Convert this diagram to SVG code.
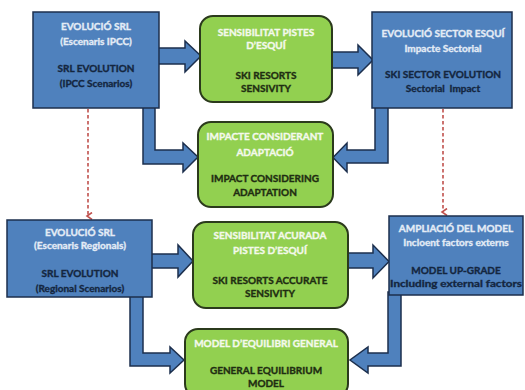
<svg xmlns="http://www.w3.org/2000/svg" width="525" height="390" viewBox="0 0 525 390">
<defs>
<style>
.blue{fill:#4f81bd;stroke:#1c2f4d;stroke-width:1.5}
.green{fill:#92d050;stroke:#2b3a1c;stroke-width:2}
.arr{fill:#4f81bd;stroke:#1c2f4d;stroke-width:1.5;stroke-linejoin:miter}
.dash{stroke:#c0504d;stroke-width:1.6;stroke-dasharray:3.5,2.5;fill:none}
text{font-family:Lato,"Liberation Sans",sans-serif;font-weight:bold;font-size:10px;text-anchor:middle;stroke-width:0.35}
.tl{fill:#e4ecf6;stroke:#e4ecf6}
.tg{fill:#f4f9ec;stroke:#f4f9ec}
.db{fill:#14263f;stroke:#14263f}
.dg{fill:#1f2d12;stroke:#1f2d12}
</style>
<marker id="rh" markerWidth="8" markerHeight="8" refX="4" refY="5" orient="auto" markerUnits="userSpaceOnUse" viewBox="0 0 8 8">
<path d="M0.5,1 L4,6 L7.5,1" fill="none" stroke="#c0504d" stroke-width="1.6"/>
</marker>
</defs>
<rect width="525" height="390" fill="#ffffff"/>
<g id="connectors">
<path class="arr" d="M155,48 H185 V41 L201,56 L185,72 V64 H155 Z"/>
<path class="arr" d="M328,52 H358 V45 L373,60 L358,75 V68 H328 Z"/>
<path class="arr" d="M143,104 H155 V150 H183 V143 L198,157 L183,172 V164 H143 Z"/>
<path class="arr" d="M388,104 V163 H347 V172 L333,157.5 L347,143 V150 H375 V104 Z"/>
<path class="arr" d="M148,254 H178 V245 L193,261 L178,277 V268 H148 Z"/>
<path class="arr" d="M345,253 H373 V245 L389,261.5 L373,278 V268 H345 Z"/>
<path class="arr" d="M130,294 H143 V353 H170 V347 L184,360 L170,373 V366 H130 Z"/>
<path class="arr" d="M401,292 V366 H368 V373 L350,360 L368,347 V353 H388 V292 Z"/>
<line class="dash" x1="88" y1="109" x2="88" y2="216" marker-end="url(#rh)"/>
<line class="dash" x1="443" y1="109" x2="443" y2="212" marker-end="url(#rh)"/>
</g>
<g id="srl-ipcc">
<rect class="blue" x="33" y="12" width="126" height="96"/>
<text class="tl" x="96" y="30">EVOLUCIÓ SRL</text>
<text class="tl" x="96" y="45">(Escenaris IPCC)</text>
<text class="db" x="96" y="72">SRL EVOLUTION</text>
<text class="db" x="96" y="87">(IPCC Scenarios)</text>
</g>
<g id="ski-resorts-sensivity">
<rect class="green" x="200" y="16" width="132" height="86" rx="13"/>
<text class="tg" x="266" y="36">SENSIBILITAT PISTES</text>
<text class="tg" x="266" y="49">D’ESQUÍ</text>
<text class="dg" x="266" y="79">SKI RESORTS</text>
<text class="dg" x="266" y="92">SENSIVITY</text>
</g>
<g id="ski-sector-evolution">
<rect class="blue" x="372" y="12" width="140" height="96"/>
<text class="tl" x="443" y="37">EVOLUCIÓ SECTOR ESQUÍ</text>
<text class="tl" x="443" y="52">Impacte Sectorial</text>
<text class="db" x="443" y="78">SKI SECTOR EVOLUTION</text>
<text class="db" x="443" y="92" xml:space="preserve">Sectorial  Impact</text>
</g>
<g id="impact-adaptation">
<rect class="green" x="198" y="122" width="135" height="85" rx="13"/>
<text class="tg" x="265" y="140">IMPACTE CONSIDERANT</text>
<text class="tg" x="265" y="156">ADAPTACIÓ</text>
<text class="dg" x="265" y="182">IMPACT CONSIDERING</text>
<text class="dg" x="265" y="196">ADAPTATION</text>
</g>
<g id="srl-regional">
<rect class="blue" x="7" y="220" width="145" height="77"/>
<text class="tl" x="80" y="236">EVOLUCIÓ SRL</text>
<text class="tl" x="80" y="249">(Escenaris Regionals)</text>
<text class="db" x="80" y="277">SRL EVOLUTION</text>
<text class="db" x="80" y="292">(Regional Scenarios)</text>
</g>
<g id="ski-resorts-accurate">
<rect class="green" x="193" y="222" width="155" height="86" rx="13"/>
<text class="tg" x="270" y="239">SENSIBILITAT ACURADA</text>
<text class="tg" x="270" y="254">PISTES D’ESQUÍ</text>
<text class="dg" x="270" y="284">SKI RESORTS ACCURATE</text>
<text class="dg" x="270" y="297">SENSIVITY</text>
</g>
<g id="model-upgrade">
<rect class="blue" x="389" y="216" width="134" height="79"/>
<text class="tl" x="456" y="232">AMPLIACIÓ DEL MODEL</text>
<text class="tl" x="456" y="246">Incloent factors externs</text>
<text class="db" x="456" y="274">MODEL UP-GRADE</text>
<text class="db" x="456" y="287" textLength="132" lengthAdjust="spacingAndGlyphs">Including external factors</text>
</g>
<g id="general-equilibrium">
<rect class="green" x="185" y="329" width="163" height="68" rx="13"/>
<text class="tg" x="266" y="347">MODEL D’EQUILIBRI GENERAL</text>
<text class="dg" x="266" y="374">GENERAL EQUILIBRIUM</text>
<text class="dg" x="266" y="387">MODEL</text>
</g>
</svg>
